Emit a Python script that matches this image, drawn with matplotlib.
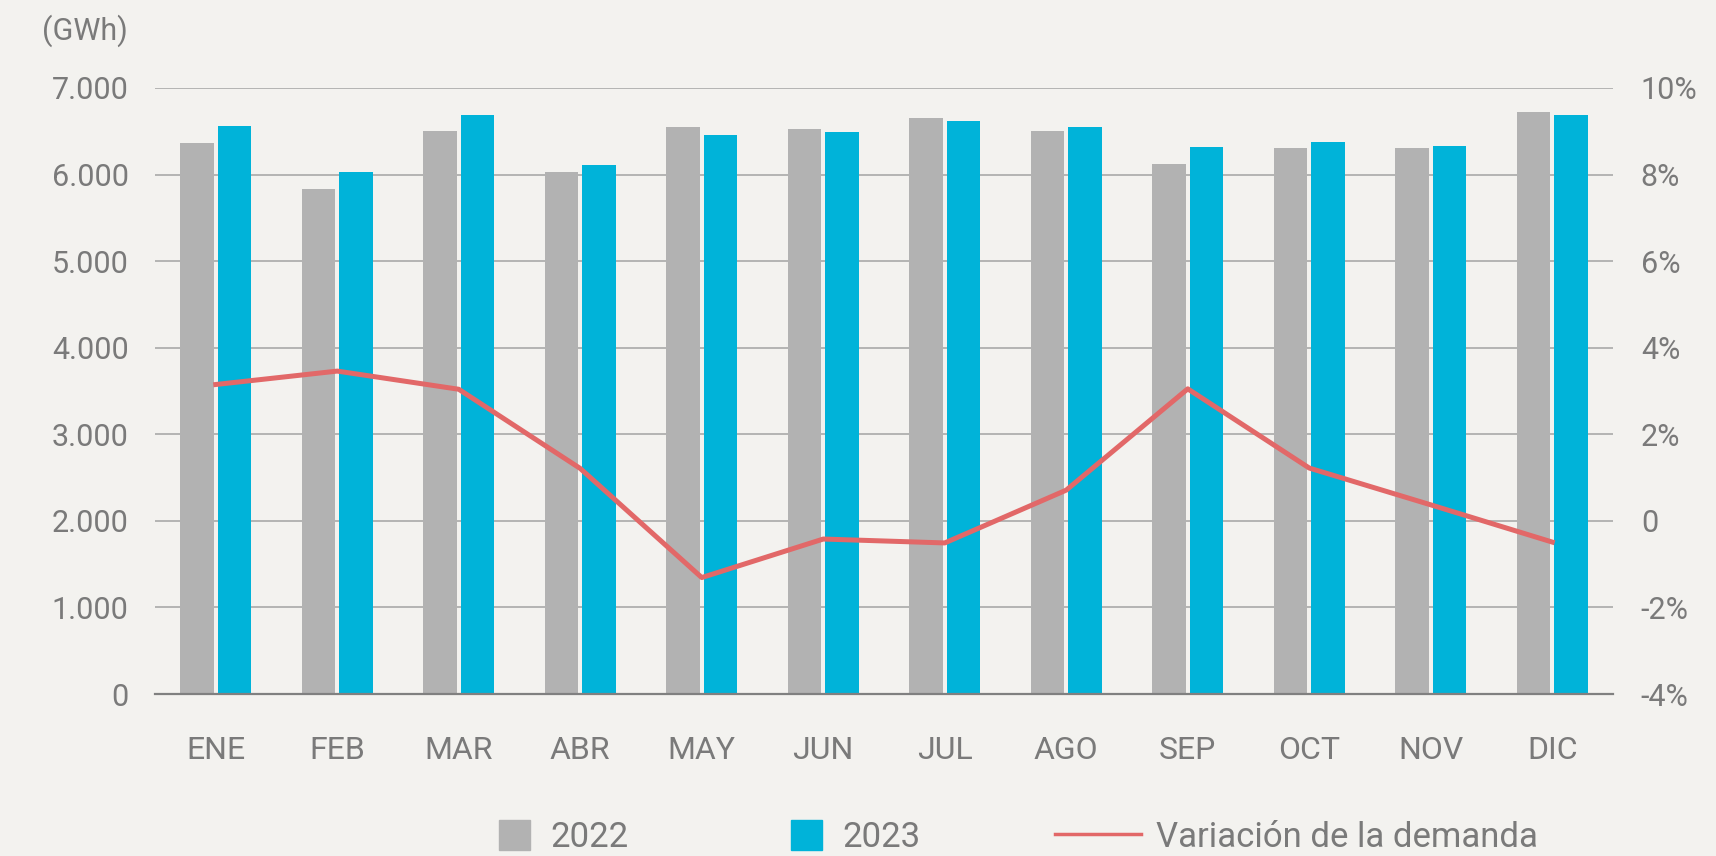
import matplotlib.pyplot as plt
import matplotlib.patches as mpatches
from matplotlib.lines import Line2D
from matplotlib.legend_handler import HandlerPatch
import numpy as np

meses = ["ENE", "FEB", "MAR", "ABR", "MAY", "JUN", "JUL", "AGO", "SEP", "OCT", "NOV", "DIC"]
demanda_2022 = [6362, 5832, 6500, 6031, 6545, 6521, 6656, 6505, 6127, 6304, 6304, 6727]
demanda_2023 = [6562, 6031, 6685, 6108, 6459, 6494, 6621, 6545, 6313, 6381, 6331, 6692]
variacion = [3.15, 3.46, 3.04, 1.21, -1.31, -0.42, -0.51, 0.71, 3.05, 1.22, 0.37, -0.49]

etiquetas_izq = ["0", "1.000", "2.000", "3.000", "4.000", "5.000", "6.000", "7.000"]
etiquetas_der = ["-4%", "-2%", "0", "2%", "4%", "6%", "8%", "10%"]

fondo = "#f3f2ef"
gris = "#b2b2b2"
azul = "#00b3d9"
rojo = "#e26868"
texto = "#7a7a7a"

plt.rcParams['font.family'] = ['Roboto', 'DejaVu Sans']

fig = plt.figure(figsize=(17.16, 8.56), dpi=100, facecolor=fondo)
ax = fig.add_axes([155/1716, 1 - 694/856, (1613-155)/1716, (694-88)/856])
ax.set_facecolor(fondo)

x = np.arange(len(meses))
ancho = 0.275
ax.bar(x - 0.155, demanda_2022, ancho, color=gris, zorder=2)
ax.bar(x + 0.155, demanda_2023, ancho, color=azul, zorder=2)

ax.set_xlim(-0.5, len(meses) - 0.5)
ax.set_ylim(0, 7000)
ax.set_yticks(np.arange(0, 7001, 1000))
ax.set_yticklabels(etiquetas_izq)
ax.set_xticks(x)
ax.set_xticklabels(meses)
ax.yaxis.grid(True, color="#a9a9a9", lw=1.2)
ax.set_axisbelow(True)
for s in ["top", "left", "right"]:
    ax.spines[s].set_visible(False)
ax.spines["bottom"].set_color("#808080")
ax.spines["bottom"].set_linewidth(1.6)
ax.spines["bottom"].set_zorder(3)
ax.tick_params(axis="y", length=0, pad=19, labelsize=22, labelcolor=texto)
ax.tick_params(axis="x", length=0, pad=30, labelsize=23, labelcolor=texto)

ax2 = ax.twinx()
ax2.plot(x, variacion, color=rojo, lw=3.6, zorder=4)
ax2.set_ylim(-4, 10)
ax2.set_yticks(np.arange(-4, 11, 2))
ax2.set_yticklabels(etiquetas_der)
for s in ax2.spines.values():
    s.set_visible(False)
ax2.tick_params(axis="y", length=0, pad=20, labelsize=22, labelcolor=texto)

fig.text(128/1716, 1 - 31/856, "(GWh)", ha="right", va="center", fontsize=22, color=texto)


def cuadro(legend, orig_handle, xdescent, ydescent, width, height, fontsize):
    return mpatches.Rectangle((-xdescent, -ydescent), width, height)


mapa = {mpatches.Patch: HandlerPatch(patch_func=cuadro)}
y_ley = 1 - 837/856
tam = 25
entradas = [
    (mpatches.Patch(color=gris), "2022", 499, 31/35, 21/35),
    (mpatches.Patch(color=azul), "2023", 791, 31/35, 21/35),
    (Line2D([], [], color=rojo, lw=2.5), "Variación de la demanda", 1055, 87/35, 15/35),
]
for h, lab, x0, hl, tp in entradas:
    fig.legend([h], [lab], loc="center left", bbox_to_anchor=(x0/1716, y_ley),
               frameon=False, fontsize=tam, labelcolor=texto, handlelength=hl,
               handleheight=34/35, handletextpad=tp, borderpad=0, borderaxespad=0,
               handler_map=mapa)

fig.savefig("out.png", dpi=100, facecolor=fondo)
